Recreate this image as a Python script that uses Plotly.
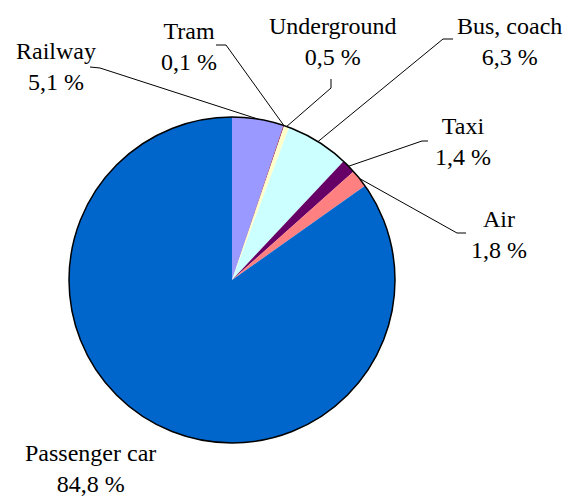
import math
import plotly.graph_objects as go

# Modal split of passenger transport (share of passenger-km, %)
categories = ["Railway", "Tram", "Underground", "Bus, coach", "Taxi", "Air", "Passenger car"]
shares = [5.1, 0.1, 0.5, 6.3, 1.4, 1.8, 84.8]
colors = ["#9999FF", "#993366", "#FFFFCC", "#CCFFFF", "#660066", "#FF8080", "#0066CC"]

W, H = 568, 496
CX, CY, R = 232, 280, 163          # pie centre and radius in pixels
FONT = "'Liberation Serif', 'DejaVu Serif', serif"

# label centre (px) and leader path: end at label, knee point
label_pos = {
    "Railway": (56, 66),
    "Tram": (189, 46),
    "Underground": (333, 41),
    "Bus, coach": (509, 41),
    "Taxi": (463, 141),
    "Air": (499, 234),
    "Passenger car": (90, 468),
}
leader = {
    "Railway": [(90, 67), (100, 68)],
    "Tram": [(216, 45), (226, 45)],
    "Underground": [(331, 79), (331, 88)],
    "Bus, coach": [(453, 39), (443, 39)],
    "Taxi": [(428, 141), (422, 141)],
    "Air": [(466, 233), (457, 233)],
}

fig = go.Figure()

dom_x = [(CX - R) / W, (CX + R) / W]
dom_y = [1 - (CY + R) / H, 1 - (CY - R) / H]

fig.add_trace(go.Pie(
    labels=categories, values=shares, sort=False, direction="clockwise",
    rotation=0, marker=dict(colors=colors, line=dict(width=0)),
    textinfo="none", hoverinfo="label+percent", showlegend=False,
    domain=dict(x=dom_x, y=dom_y),
))
# outer rim of the pie
fig.add_trace(go.Pie(
    labels=["rim"], values=[1], sort=False, textinfo="none", hoverinfo="skip",
    marker=dict(colors=["rgba(0,0,0,0)"], line=dict(color="black", width=1.5)),
    showlegend=False, domain=dict(x=dom_x, y=dom_y),
))

# leader lines from slice mid-angle on the rim to each label
total = sum(shares)
cum = 0.0
annotations = []
for cat, val in zip(categories, shares):
    mid = (cum + val / 2) / total * 2 * math.pi
    cum += val
    ex, ey = CX + R * math.sin(mid), CY - R * math.cos(mid)
    if cat in leader:
        (lx, ly), (kx, ky) = leader[cat]
        fig.add_trace(go.Scatter(
            x=[lx, kx, ex], y=[ly, ky, ey], mode="lines",
            line=dict(color="black", width=1), hoverinfo="skip", showlegend=False,
        ))
    tx, ty = label_pos[cat]
    pct = f"{val:.1f}".replace(".", ",") + " %"
    annotations.append(dict(
        x=tx, y=ty, xref="x", yref="y", text=f"{cat}<br>{pct}", showarrow=False,
        font=dict(family=FONT, size=24, color="black"), align="center",
        xanchor="center", yanchor="middle",
    ))

fig.update_layout(
    width=W, height=H, margin=dict(l=0, r=0, t=0, b=0),
    paper_bgcolor="white", plot_bgcolor="rgba(0,0,0,0)",
    font=dict(family=FONT),
    xaxis=dict(range=[0, W], visible=False, domain=[0, 1], fixedrange=True),
    yaxis=dict(range=[H, 0], visible=False, domain=[0, 1], fixedrange=True),
    annotations=annotations,
)

fig.write_html("out.html")
